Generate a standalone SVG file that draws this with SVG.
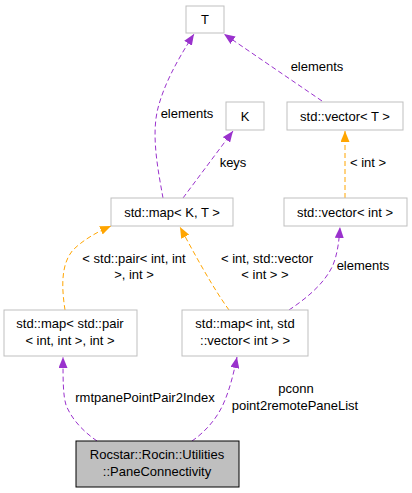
<svg xmlns="http://www.w3.org/2000/svg" width="412" height="493" viewBox="0 0 412 493">
<style>
text{font-family:"Liberation Sans",Arial,sans-serif;font-size:13px;fill:#000;text-anchor:middle}
.box{fill:#fff;stroke:#bfbfbf;stroke-width:1}
.main{fill:#bfbfbf;stroke:#000;stroke-width:1}
.p{fill:none;stroke:#9a32cd;stroke-width:1;stroke-dasharray:5,3;marker-end:url(#ap)}
.o{fill:none;stroke:#ffa500;stroke-width:1;stroke-dasharray:5,3;marker-end:url(#ao)}
</style>
<defs>
<marker id="ap" viewBox="0 0 11 9" refX="11" refY="4.5" markerWidth="11" markerHeight="9" markerUnits="userSpaceOnUse" orient="auto"><path d="M0,0 L11,4.5 L0,9 z" fill="#9a32cd"/></marker>
<marker id="ao" viewBox="0 0 11 9" refX="11" refY="4.5" markerWidth="11" markerHeight="9" markerUnits="userSpaceOnUse" orient="auto"><path d="M0,0 L11,4.5 L0,9 z" fill="#ffa500"/></marker>
</defs>
<rect width="412" height="493" fill="#fff"/>
<g id="edges">
<path class="p" d="M163,198 C158,170 151,135 158,108 C164,85 176,62 194,34"/>
<path class="p" d="M183,198 L233,131"/>
<path class="p" d="M322,101 L224,34"/>
<path class="o" d="M345,198 L345,131"/>
<path class="p" d="M289,310 C307,298 325,283 333,265 C337,255 339,243 340,227"/>
<path class="o" d="M229,310 C213,288 195,255 180,227"/>
<path class="o" d="M65,310 C62,290 60,265 73,250 C83,240 97,232 111,226"/>
<path class="p" d="M97,441 C84,432 72,420 66,405 C63,395 63,380 63,357"/>
<path class="p" d="M192,441 C205,432 218,418 225,400 C230,388 234,372 237,357"/>
<text x="187" y="118">elements</text>
<text x="317" y="71">elements</text>
<text x="233" y="167">keys</text>
<text x="368" y="167">&lt; int &gt;</text>
<text x="134" y="263">&lt; std::pair&lt; int, int</text>
<text x="134" y="279">&gt;, int &gt;</text>
<text x="267" y="263">&lt; int, std::vector</text>
<text x="265" y="279">&lt; int &gt; &gt;</text>
<text x="363" y="270">elements</text>
<text x="145" y="402">rmtpanePointPair2Index</text>
<text x="296" y="393">pconn</text>
<text x="295" y="410">point2remotePaneList</text>
</g>
<g id="nT"><rect class="box" x="186" y="6" width="38" height="27"/><text x="205" y="24">T</text></g>
<g id="nK"><rect class="box" x="226" y="102" width="38" height="28"/><text x="245" y="121">K</text></g>
<g id="nVecT"><rect class="box" x="287" y="102" width="116" height="28"/><text x="345" y="121">std::vector&lt; T &gt;</text></g>
<g id="nMapKT"><rect class="box" x="111" y="198" width="122" height="28"/><text x="172" y="217">std::map&lt; K, T &gt;</text></g>
<g id="nVecInt"><rect class="box" x="284" y="198" width="123" height="28"/><text x="345" y="217">std::vector&lt; int &gt;</text></g>
<g id="nMapPair"><rect class="box" x="4" y="310" width="133" height="46"/><text x="70" y="328">std::map&lt; std::pair</text><text x="70" y="345">&lt; int, int &gt;, int &gt;</text></g>
<g id="nMapInt"><rect class="box" x="182" y="310" width="126" height="46"/><text x="245" y="328">std::map&lt; int, std</text><text x="245" y="345">::vector&lt; int &gt; &gt;</text></g>
<g id="nMain"><rect class="main" x="76" y="441" width="163" height="46"/><text x="157" y="459">Rocstar::Rocin::Utilities</text><text x="157" y="476">::PaneConnectivity</text></g>
</svg>
